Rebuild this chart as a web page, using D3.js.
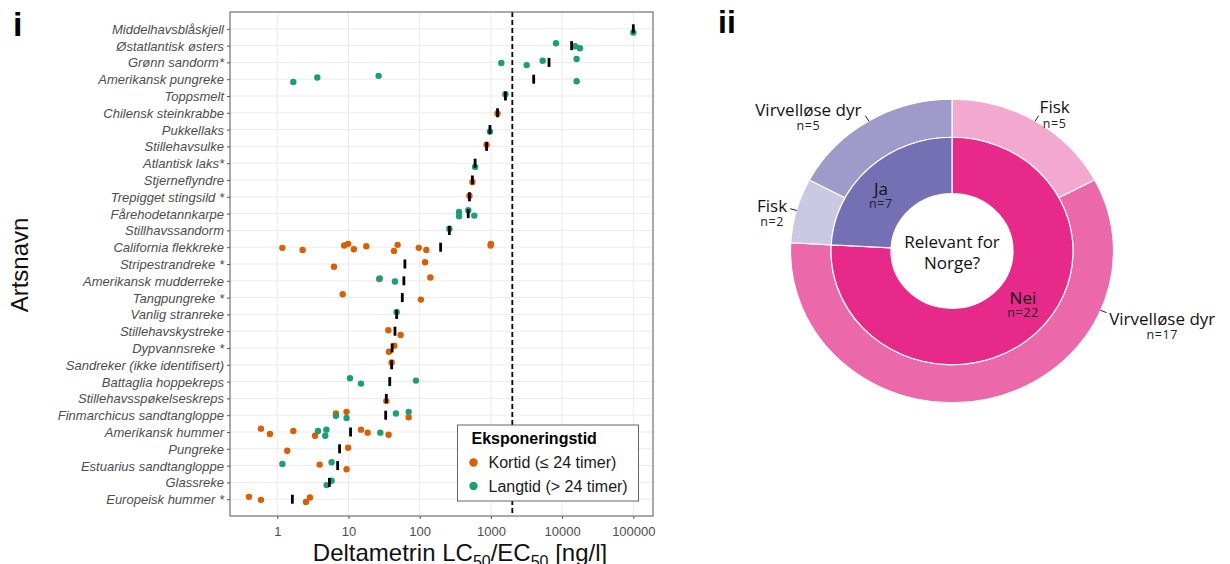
<!DOCTYPE html>
<html>
<head>
<meta charset="utf-8">
<script src="https://cdn.jsdelivr.net/npm/d3@7"></script>
<style>
  html, body { margin: 0; padding: 0; background: #fff; }
  svg { display: block; }
</style>
</head>
<body>
<svg id="fig" width="1230" height="564"></svg>
<script>
// ---- Panel i: species sensitivity to deltamethrin ----
const species = [
  "Middelhavsblåskjell", "Østatlantisk østers", "Grønn sandorm*", "Amerikansk pungreke",
  "Toppsmelt", "Chilensk steinkrabbe", "Pukkellaks", "Stillehavsulke", "Atlantisk laks*",
  "Stjerneflyndre", "Trepigget stingsild *", "Fårehodetannkarpe", "Stillhavssandorm",
  "California flekkreke", "Stripestrandreke *", "Amerikansk mudderreke", "Tangpungreke *",
  "Vanlig stranreke", "Stillehavskystreke", "Dypvannsreke *", "Sandreker (ikke identifisert)",
  "Battaglia hoppekreps", "Stillehavsspøkelseskreps", "Finmarchicus sandtangloppe",
  "Amerikansk hummer", "Pungreke", "Estuarius sandtangloppe", "Glassreke", "Europeisk hummer *"
];

// short-term exposure (≤ 24 h), ng/l, one list per species
const kortid = [
  [], [], [], [], [], [1240], [], [870], [], [550], [500], [], [],
  [1.18, 2.27, 8.7, 9.9, 11.9, 17.8, 43.5, 49, 97, 124, 990, 1000],
  [6.26, 119], [27, 141], [8.3, 104], [], [36.3, 54], [37, 44], [40.4], [], [34],
  [6.67, 9.4, 70], [0.59, 0.79, 1.68, 3.39, 15, 18.6, 36.6], [1.38, 9.9], [3.94, 9.4], [],
  [0.40, 0.59, 2.53, 2.88]
];

// long-term exposure (> 24 h), ng/l
const langtid = [
  [100000], [8200, 15200, 17800], [1400, 3180, 5340, 16000], [1.68, 3.65, 26.5, 16000],
  [1600], [], [970], [], [600], [], [], [357, 357, 482, 585], [261],
  [], [], [27.5, 45], [], [47.5], [], [], [], [10.5, 15, 88.7], [],
  [6.67, 9.4, 46.4, 70], [3.73, 4.72, 4.9, 28], [], [1.18, 5.8], [4.94, 5.8], []
];

// species-level summary value (black marker)
const median = [
  100000, 13600, 6550, 3990, 1600, 1240, 970, 870, 600, 550, 500, 480, 261,
  197, 62, 60, 57, 47.5, 45, 41, 40.4, 38, 34, 33.3, 10.7, 7.5, 7.05, 5.4, 1.63
];

const xTicks = [1, 10, 100, 1000, 10000, 100000];
const xTickLabels = ["1", "10", "100", "1000", "10000", "100000"];
const threshold = 2000;

const exposureNames = ["Kortid (≤ 24 timer)", "Langtid (> 24 timer)"];
const exposureColors = ["#d95f02", "#1b9e77"];

// ---- Panel ii: relevance for Norway ----
const innerNames = ["Nei", "Ja"];
const innerCounts = [22, 7];
const innerColors = ["#e7298a", "#7570b3"];
const outerNames = ["Fisk", "Virvelløse dyr", "Fisk", "Virvelløse dyr"];
const outerParents = ["Nei", "Nei", "Ja", "Ja"];
const outerCounts = [5, 17, 2, 5];
const outerColors = ["#f3a8cf", "#eb68aa", "#cbc8e4", "#9e9bca"];

const svg = d3.select("#fig");
const AX = "Liberation Sans, Arial, sans-serif";

// ===== Panel i =====
const P = { left: 230, right: 653, top: 12, bottom: 516 };
const x = d3.scaleLog().domain([0.217, 189000]).range([P.left, P.right]);
const y = d3.scalePoint().domain(species).range([P.top, P.bottom]).padding(1);
const step = y.step();

const g = svg.append("g");

// grid
g.append("g").selectAll("line").data(species).join("line")
  .attr("x1", P.left).attr("x2", P.right)
  .attr("y1", d => y(d)).attr("y2", d => y(d))
  .attr("stroke", "#ebebeb").attr("stroke-width", 1);
g.append("g").selectAll("line").data(xTicks).join("line")
  .attr("x1", d => x(d)).attr("x2", d => x(d))
  .attr("y1", P.top).attr("y2", P.bottom)
  .attr("stroke", "#ebebeb").attr("stroke-width", 1);

// threshold
g.append("line")
  .attr("x1", x(threshold)).attr("x2", x(threshold))
  .attr("y1", P.top).attr("y2", P.bottom)
  .attr("stroke", "#000").attr("stroke-width", 1.8).attr("stroke-dasharray", "5,3");

// points with a small fixed vertical spread
const spread = [-0.2, 0.12, -0.06, 0.22, -0.14, 0.04, 0.16, -0.1];
const pts = [];
species.forEach((s, i) => {
  let k = i;
  kortid[i].forEach(v => pts.push({ s, v, c: 0, j: spread[(k++) % spread.length] }));
  langtid[i].forEach(v => pts.push({ s, v, c: 1, j: spread[(k++ + 3) % spread.length] }));
});
g.append("g").selectAll("circle").data(pts).join("circle")
  .attr("cx", d => x(d.v))
  .attr("cy", d => y(d.s) + d.j * step)
  .attr("r", 3.2)
  .attr("fill", d => exposureColors[d.c]);

// summary markers
g.append("g").selectAll("rect").data(species).join("rect")
  .attr("x", (d, i) => x(median[i]) - 1.4)
  .attr("y", d => y(d) - 4.5)
  .attr("width", 2.8).attr("height", 9)
  .attr("fill", "#000");

// panel border
g.append("rect")
  .attr("x", P.left).attr("y", P.top)
  .attr("width", P.right - P.left).attr("height", P.bottom - P.top)
  .attr("fill", "none").attr("stroke", "#555").attr("stroke-width", 1);

// axes
const xAxis = g.append("g").attr("transform", `translate(0,${P.bottom})`)
  .call(d3.axisBottom(x).tickValues(xTicks).tickFormat((d, i) => xTickLabels[i]).tickSize(3).tickPadding(5));
const yAxis = g.append("g").attr("transform", `translate(${P.left},0)`)
  .call(d3.axisLeft(y).tickSize(3).tickPadding(3));
[xAxis, yAxis].forEach(a => {
  a.select(".domain").remove();
  a.selectAll(".tick line").attr("stroke", "#555");
  a.selectAll("text").attr("fill", "#4d4d4d").attr("font-family", AX).attr("font-size", 13);
});
yAxis.selectAll("text").attr("font-style", "italic").attr("dy", "0.34em");
xAxis.selectAll("text").attr("dy", "0.9em");

// axis titles
const xt = svg.append("text")
  .attr("x", 460).attr("y", 561)
  .attr("text-anchor", "middle")
  .attr("font-family", AX).attr("font-size", 24).attr("fill", "#111");
xt.append("tspan").text("Deltametrin LC");
xt.append("tspan").attr("font-size", 16).attr("dy", 6).text("50");
xt.append("tspan").attr("dy", -6).text("/EC");
xt.append("tspan").attr("font-size", 16).attr("dy", 6).text("50");
xt.append("tspan").attr("dy", -6).text(" [ng/l]");

svg.append("text")
  .attr("transform", "translate(28,265) rotate(-90)")
  .attr("text-anchor", "middle")
  .attr("font-family", AX).attr("font-size", 24).attr("fill", "#111")
  .text("Artsnavn");

// legend
const L = svg.append("g").attr("transform", "translate(457.5,425)");
L.append("rect").attr("width", 181).attr("height", 76)
  .attr("fill", "#fff").attr("stroke", "#666").attr("stroke-width", 1);
L.append("text").attr("x", 14).attr("y", 18.5)
  .attr("font-family", AX).attr("font-size", 16).attr("font-weight", "bold").attr("fill", "#000")
  .text("Eksponeringstid");
exposureNames.forEach((n, i) => {
  L.append("circle").attr("cx", 16).attr("cy", 37.5 + i * 23.5).attr("r", 4.2).attr("fill", exposureColors[i]);
  L.append("text").attr("x", 31).attr("y", 43 + i * 23.5)
    .attr("font-family", AX).attr("font-size", 16).attr("fill", "#1a1a1a").text(n);
});

// panel letters
svg.append("text").attr("x", 13).attr("y", 36)
  .attr("font-family", AX).attr("font-weight", "bold").attr("font-size", 34).text("i");
svg.append("text").attr("x", 718).attr("y", 33)
  .attr("font-family", AX).attr("font-weight", "bold").attr("font-size", 32).text("ii");

// ===== Panel ii =====
const cx = 952, cy = 251;
const squash = 0.94;                    // the sunburst is drawn slightly flattened
const rHole = 61, rMid = 121, rOuter = 161.5;
const DF = "Open Sans, sans-serif";
const D = svg.append("g").attr("transform", `translate(${cx},${cy})`);
const rings = D.append("g").attr("transform", `scale(1,${squash})`);
const pie = d3.pie().sort(null).value(d => d.n).startAngle(0).endAngle(2 * Math.PI);

const innerArcs = pie(innerNames.map((name, i) => ({ name, n: innerCounts[i], col: innerColors[i] })));
const outerArcs = pie(outerNames.map((name, i) => ({ name, parent: outerParents[i], n: outerCounts[i], col: outerColors[i] })));

rings.append("g").selectAll("path").data(outerArcs).join("path")
  .attr("d", d3.arc().innerRadius(rMid).outerRadius(rOuter))
  .attr("fill", d => d.data.col).attr("stroke", "#fff").attr("stroke-width", 1.2);
rings.append("g").selectAll("path").data(innerArcs).join("path")
  .attr("d", d3.arc().innerRadius(rHole).outerRadius(rMid))
  .attr("fill", d => d.data.col).attr("stroke", "#fff").attr("stroke-width", 1.2);

const polar = (r, a) => [r * Math.sin(a), -r * Math.cos(a) * squash];
const deg = Math.PI / 180;

// center caption
D.append("text").attr("text-anchor", "middle").attr("y", -3)
  .attr("font-family", DF).attr("font-size", 17).attr("fill", "#111").text("Relevant for");
D.append("text").attr("text-anchor", "middle").attr("y", 18)
  .attr("font-family", DF).attr("font-size", 17).attr("fill", "#111").text("Norge?");

// inner ring labels
const innerLabelPos = { "Nei": { a: 125.4, r: 87 }, "Ja": { a: 312.9, r: 97 } };
innerArcs.forEach(d => {
  const p = innerLabelPos[d.data.name];
  const [lx, ly] = polar(p.r, p.a * deg);
  D.append("text").attr("x", lx).attr("y", ly + 6).attr("text-anchor", "middle")
    .attr("font-family", DF).attr("font-size", 17).attr("fill", "#111").text(d.data.name);
  D.append("text").attr("x", lx).attr("y", ly + 19).attr("text-anchor", "middle")
    .attr("font-family", DF).attr("font-size", 12.5).attr("letter-spacing", 0.6).attr("fill", "#222")
    .text("n=" + d.data.n);
});

// outer ring labels with short leader lines
const outerLabelLayout = [
  { a: null, dx: 1, dy: -2.5, anchor: "start" },
  { a: 113, dx: 2.5, dy: 12, anchor: "start" },
  { a: null, dx: -3, dy: 3, anchor: "end" },
  { a: null, dx: -4, dy: 0, anchor: "end" }
];
outerArcs.forEach((d, i) => {
  const lay = outerLabelLayout[i];
  const a = lay.a != null ? lay.a * deg : (d.startAngle + d.endAngle) / 2;
  const [x0, y0] = polar(161, a);
  const [x1, y1] = polar(168, a);
  D.append("line").attr("x1", x0).attr("y1", y0).attr("x2", x1).attr("y2", y1)
    .attr("stroke", "#222").attr("stroke-width", 1);
  const t = D.append("text").attr("x", x1 + lay.dx).attr("y", y1 + lay.dy)
    .attr("text-anchor", lay.anchor)
    .attr("font-family", DF).attr("font-size", 17).attr("fill", "#111").text(d.data.name);
  const w = t.node().getComputedTextLength();
  const mid = lay.anchor === "start" ? x1 + lay.dx + w / 2 : x1 + lay.dx - w / 2;
  D.append("text").attr("x", mid).attr("y", y1 + lay.dy + 14.5).attr("text-anchor", "middle")
    .attr("font-family", DF).attr("font-size", 12.5).attr("letter-spacing", 0.6).attr("fill", "#222")
    .text("n=" + d.data.n);
});
</script>
</body>
</html>
